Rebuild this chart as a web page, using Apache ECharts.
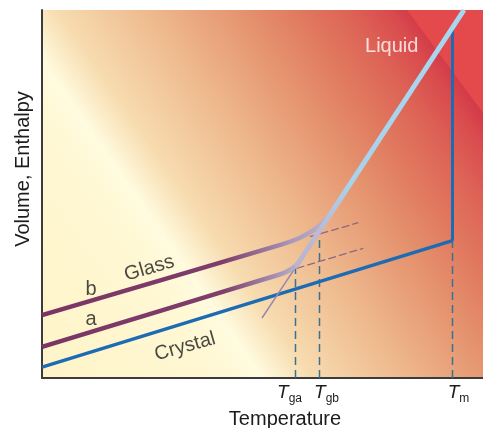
<!DOCTYPE html>
<html><head><meta charset="utf-8">
<script src="https://cdn.jsdelivr.net/npm/echarts@6/dist/echarts.min.js"></script>
<style>html,body{margin:0;padding:0;background:#fff}#c{width:483px;height:428px}</style>
</head><body><div id="c"></div>
<script>
// ---- data (schematic units: temperature along x, volume/enthalpy along y) ----
const tempTicks = [253.5, 277.5, 410.5];          // Tga, Tgb, Tm
const tickSubs = ['ga', 'gb', 'm'];
const crystal = [[0, 10.9], [410.5, 137.3]];
const melting = [[410.5, 137.3], [410.5, 350.4]];
const liquid = [[254, 111.3], [422, 368]];
const supercooled = [[220, 60], [254, 111.3]];
const glassA = [[0, 31.2], [120, 67.7], [236, 103], [243.2, 105.6], [249.3, 109], [254.2, 112.8], [258, 117.4]];
const glassB = [[0, 62.8], [120, 98.2], [240, 133.6], [256.4, 139.5], [270.2, 147.0], [281.4, 155.9], [290, 166.3]];
const glassAExt = [[254.7, 109.7], [321.3, 129.7]];
const glassBExt = [[268, 141.3], [316.3, 155.3]];
const dropTops = [109.7, 146, 137.3];
const labelTexts = ['Liquid', 'Glass', 'Crystal', 'b', 'a'];

// ---- styling / layout ----
const FONT = 'Liberation Sans, Arial, sans-serif';
const TXT = '#1c1c1c';
const labelPlace = [[349.7, 332, 0, '#ffffff'], [107.3, 109.7, 16, TXT], [143, 31.3, 16, TXT], [49, 89, 0, TXT], [49, 59, 0, TXT]];
const padBefore = [0, 14, 12];
const padAfter = [12, 0, 0];

const chart = echarts.init(document.getElementById('c'), null, {renderer: 'canvas'});

function lineSeries(data, color, width, type, z) {
  return {type: 'line', data: data, symbol: 'none', showSymbol: false, silent: true, z: z || 2,
    lineStyle: {color: color, width: width, type: type || 'solid'}, animation: false};
}

const bgStops = [
  [0, '#fff3c6'], [0.32, '#fff8d4'], [0.376, '#fffbdf'], [0.451, '#f7dcb0'], [0.602, '#eeb78c'],
  [0.733, '#e5946f'], [0.818, '#e17b60'], [0.902, '#dd6356'], [0.968, '#d94a4d'], [1, '#d23a48']
].map(s => ({offset: s[0], color: s[1]}));

const series = [];
tempTicks.forEach((t, i) => {
  series.push(lineSeries([[t, 0], [t, dropTops[i]]], '#3a7090', 1.5, [8, 5], 1));
});
series.push(lineSeries(crystal, '#1d6cb3', 3.5));
series.push(lineSeries(melting, '#1d6cb3', 3));
series.push(lineSeries(supercooled, '#9a88a8', 1.5));
series.push(lineSeries(glassAExt, '#8a6886', 1.3, [8, 3]));
series.push(lineSeries(glassBExt, '#8a6886', 1.3, [8, 3]));
const glassGradA = new echarts.graphic.LinearGradient(0, 0, 1, 0, [
  {offset: 0, color: '#7b3464'}, {offset: 0.7, color: '#7f3e6b'}, {offset: 0.92, color: '#ab9abb'}, {offset: 1, color: '#bcb6d0'}]);
const glassGradB = new echarts.graphic.LinearGradient(0, 0, 1, 0, [
  {offset: 0, color: '#7b3464'}, {offset: 0.62, color: '#7e3d6a'}, {offset: 0.86, color: '#ab9abb'}, {offset: 1, color: '#bcb6d0'}]);
series.push(Object.assign(lineSeries(glassA, glassGradA, 4.5), {smooth: 0.3}));
series.push(Object.assign(lineSeries(glassB, glassGradB, 4.5), {smooth: 0.3}));
series.push(lineSeries(liquid, new echarts.graphic.LinearGradient(0, 1, 0, 0, [
  {offset: 0, color: '#bab4cf'}, {offset: 0.15, color: '#bdbad2'}, {offset: 0.32, color: '#a9d2ec'}, {offset: 1, color: '#a8d6f0'}]), 5));
series.push({
  type: 'scatter', silent: true, symbolSize: 0, z: 5, animation: false,
  data: labelTexts.map((t, i) => ({
    value: [labelPlace[i][0], labelPlace[i][1]],
    label: {show: true, position: 'inside', formatter: t, rotate: labelPlace[i][2],
      color: labelPlace[i][3], fontSize: 20, fontFamily: FONT}
  }))
});

const tickRich = {
  T: {fontFamily: FONT, fontStyle: 'italic', fontSize: 19, color: TXT, lineHeight: 22, verticalAlign: 'bottom', padding: [0, 0, 3, 0]},
  s: {fontFamily: FONT, fontSize: 12, color: TXT, lineHeight: 22, verticalAlign: 'bottom'},
  p1: {width: 14}, p2: {width: 12}, q0: {width: 12}
};
function tickFormatter(v) {
  const i = tempTicks.indexOf(v);
  if (i < 0) return '';
  return (padBefore[i] ? '{p' + i + '| }' : '') + '{T|T}{s|' + tickSubs[i] + '}' + (padAfter[i] ? '{q' + i + '| }' : '');
}
function xAxisDef(values, withLine) {
  return {
    type: 'value', min: 0, max: 441, position: 'bottom', gridIndex: 0,
    axisLine: {show: withLine, onZero: false, lineStyle: {color: '#3c3c3c', width: 2}},
    axisTick: {show: false}, splitLine: {show: false},
    axisLabel: {customValues: values, margin: 5, hideOverlap: false, formatter: tickFormatter, rich: tickRich}
  };
}
const xMain = Object.assign(xAxisDef(tempTicks.slice(0, 1), true), {
  name: 'Temperature', nameLocation: 'middle', nameGap: 30,
  nameTextStyle: {fontFamily: FONT, fontSize: 20, color: TXT, padding: [0, 0, 0, 45]}
});
const xSecond = xAxisDef(tempTicks.slice(1), false);

chart.setOption({
  animation: false,
  backgroundColor: '#ffffff',
  grid: {left: 42, right: 0, top: 10, bottom: 50, containLabel: false, outerBoundsMode: 'none'},
  graphic: {elements: [
    {type: 'rect', z: -10, silent: true, shape: {x: 42, y: 10, width: 441, height: 368},
      style: {fill: new echarts.graphic.LinearGradient(-164, 114, 272.2, -189.2, bgStops, true)}},
    {type: 'polygon', z: -9, silent: true, shape: {points: [[407, 10], [483, 10], [483, 113]]},
      style: {fill: '#e44a4b'}}
  ]},
  xAxis: [xMain, xSecond],
  yAxis: {
    type: 'value', min: 0, max: 368,
    axisLine: {show: true, onZero: false, lineStyle: {color: '#3c3c3c', width: 2}},
    axisTick: {show: false}, axisLabel: {show: false}, splitLine: {show: false},
    name: 'Volume, Enthalpy', nameLocation: 'middle', nameGap: 9,
    nameTextStyle: {fontFamily: FONT, fontSize: 20, color: TXT, padding: [0, 0, 0, 50]}
  },
  series: series
});
</script></body></html>
